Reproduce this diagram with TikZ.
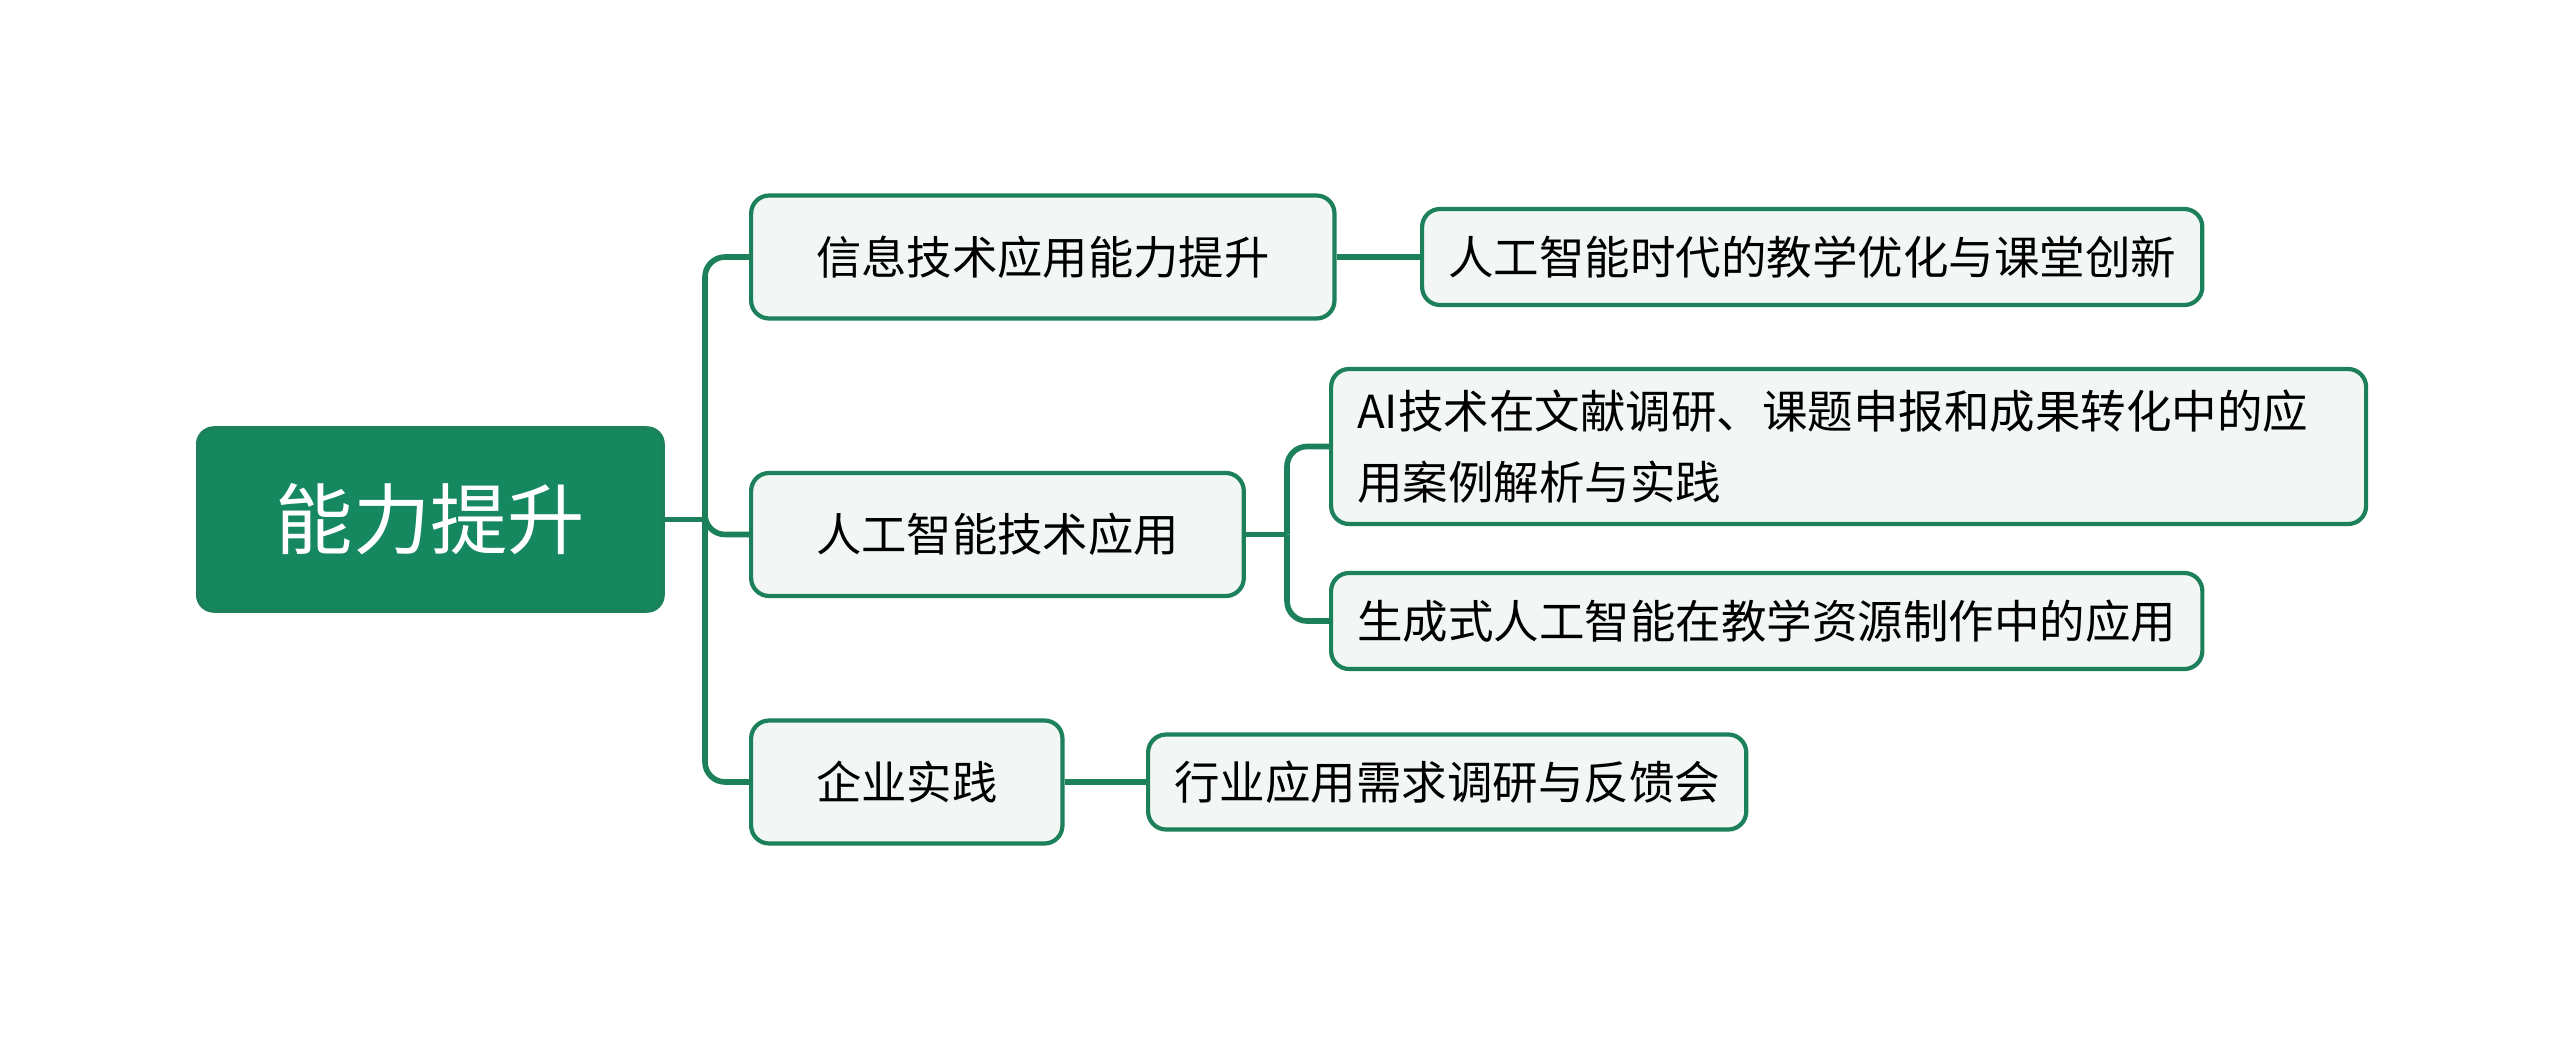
\documentclass[tikz,border=0pt]{standalone}
\usepackage{fontspec}
\newfontfamily\cjk{Noto Sans CJK SC}
\definecolor{mainGreen}{RGB}{22,136,96}
\definecolor{lineGreen}{RGB}{28,128,90}
\definecolor{boxFill}{RGB}{242,247,245}
\begin{document}
\begin{tikzpicture}[
  rootbox/.style={rounded corners=0.16cm,fill=mainGreen,draw=lineGreen,line width=1pt,
    text=white,font=\cjk\fontsize{22}{26}\selectfont,inner xsep=0.78cm,
    minimum height=1.83cm,anchor=west},
  topicbox/.style={rounded corners=0.18cm,fill=boxFill,draw=lineGreen,line width=1.2pt,
    font=\cjk\fontsize{12.9}{16}\selectfont,inner xsep=0.65cm,
    minimum height=1.23cm,anchor=west},
  subbox/.style={rounded corners=0.18cm,fill=boxFill,draw=lineGreen,line width=1.2pt,
    font=\cjk\fontsize{12.95}{20}\selectfont,inner xsep=0.26cm,align=left,
    minimum height=0.96cm,anchor=west},
  link/.style={draw=lineGreen,line width=1.6pt,rounded corners=0.2cm}]
\useasboundingbox (0,0) rectangle (25.6,10.38);
% root
\node[rootbox] (root) at (1.96,5.185) {能力提升};
% first level
\node[topicbox] (xinxi) at (7.49,7.81) {信息技术应用能力提升};
\node[topicbox] (rengong) at (7.49,5.035) {人工智能技术应用};
\node[topicbox] (qiye) at (7.49,2.56) {企业实践};
% second level
\node[subbox] (youhua) at (14.20,7.81) {人工智能时代的教学优化与课堂创新};
\node[subbox,minimum height=1.55cm,text width=9.83cm] (wenxian) at (13.29,5.915)
  {AI技术在文献调研、课题申报和成果转化中的应\\用案例解析与实践};
\node[subbox] (shengcheng) at (13.29,4.17) {生成式人工智能在教学资源制作中的应用};
\node[subbox,minimum height=0.95cm] (hangye) at (11.46,2.56) {行业应用需求调研与反馈会};
% connectors
\coordinate (trunk) at (7.05,5.185);
\coordinate (hub) at (12.87,5.035);
\draw[link] (root.east) -- (trunk);
\draw[link] (trunk) |- (xinxi.west);
\draw[link] (trunk) |- (rengong.west);
\draw[link] (trunk) |- (qiye.west);
\draw[link] (xinxi.east) -- (youhua.west);
\draw[link] (rengong.east) -- (hub);
\draw[link] (hub) |- (wenxian.west);
\draw[link] (hub) |- (shengcheng.west);
\draw[link] (qiye.east) -- (hangye.west);
\end{tikzpicture}
\end{document}
